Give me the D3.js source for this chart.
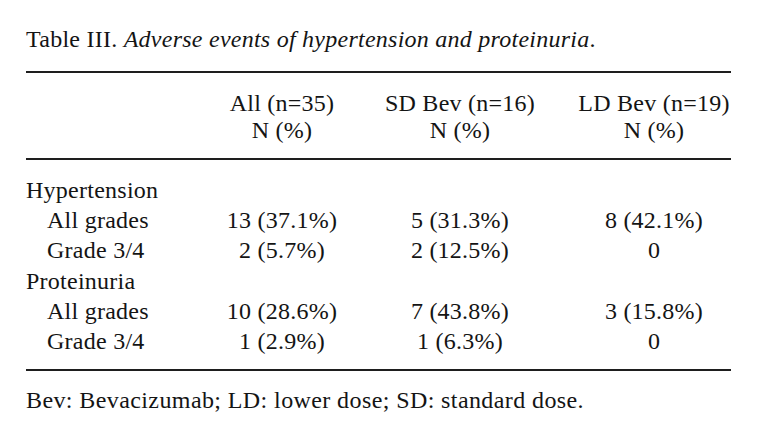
<!DOCTYPE html>
<html>
<head>
<meta charset="utf-8">
<script src="https://cdn.jsdelivr.net/npm/d3@7"></script>
<style>
  html, body { margin: 0; padding: 0; background: #fff; }
  svg text { font-family: "Liberation Serif", "Times New Roman", serif; fill: #141414; letter-spacing: 0.25px; }
</style>
</head>
<body>
<svg id="chart" width="758" height="441"></svg>
<script>
// ---- data ----
const titleLabel = "Table III.";
const titleText = "Adverse events of hypertension and proteinuria.";
const columns = ["All (n=35)", "SD Bev (n=16)", "LD Bev (n=19)"];
const columnUnits = ["N (%)", "N (%)", "N (%)"];
const rowLabels = ["Hypertension", "All grades", "Grade 3/4", "Proteinuria", "All grades", "Grade 3/4"];
const rowIsGroup = [true, false, false, true, false, false];
const allValues = ["", "13 (37.1%)", "2 (5.7%)", "", "10 (28.6%)", "1 (2.9%)"];
const sdValues = ["", "5 (31.3%)", "2 (12.5%)", "", "7 (43.8%)", "1 (6.3%)"];
const ldValues = ["", "8 (42.1%)", "0", "", "3 (15.8%)", "0"];
const footnote = "Bev: Bevacizumab; LD: lower dose; SD: standard dose.";

// ---- layout ----
const svg = d3.select("#chart");
const fontSize = 24;
const left = 26, right = 731;

const xCol = d3.scaleOrdinal().domain(columns).range([282, 460, 654]);
const yRow = d3.scaleLinear().domain([0, rowLabels.length - 1]).range([198, 349]);

// title
const t = svg.append("text").attr("x", left).attr("y", 47).attr("font-size", fontSize);
t.append("tspan").text(titleLabel + " ");
t.append("tspan").attr("font-style", "italic").text(titleText.slice(0, -1));
t.append("tspan").text(".");

// rules
const rules = [72, 159, 370];
svg.selectAll("line.rule").data(rules).join("line")
  .attr("class", "rule")
  .attr("x1", left).attr("x2", right)
  .attr("y1", d => d).attr("y2", d => d)
  .attr("stroke", "#1e1e1e").attr("stroke-width", 2);

// header
svg.selectAll("text.head1").data(columns).join("text")
  .attr("class", "head1")
  .attr("x", d => xCol(d)).attr("y", 111)
  .attr("text-anchor", "middle").attr("font-size", fontSize)
  .text(d => d);
svg.selectAll("text.head2").data(columns).join("text")
  .attr("class", "head2")
  .attr("x", (d, i) => xCol(columns[i])).attr("y", 138)
  .attr("text-anchor", "middle").attr("font-size", fontSize)
  .text((d, i) => columnUnits[i]);

// row labels
svg.selectAll("text.rowlab").data(rowLabels).join("text")
  .attr("class", "rowlab")
  .attr("x", (d, i) => rowIsGroup[i] ? left : left + 21)
  .attr("y", (d, i) => yRow(i))
  .attr("font-size", fontSize)
  .text(d => d);

// values
const series = [allValues, sdValues, ldValues];
series.forEach((vals, c) => {
  svg.selectAll("text.val" + c).data(vals).join("text")
    .attr("class", "val" + c)
    .attr("x", xCol(columns[c]))
    .attr("y", (d, i) => yRow(i))
    .attr("text-anchor", "middle").attr("font-size", fontSize)
    .text(d => d);
});

// footnote
svg.append("text").attr("x", left).attr("y", 408).attr("font-size", fontSize)
  .style("letter-spacing", "0.4px").text(footnote);
</script>
</body>
</html>
